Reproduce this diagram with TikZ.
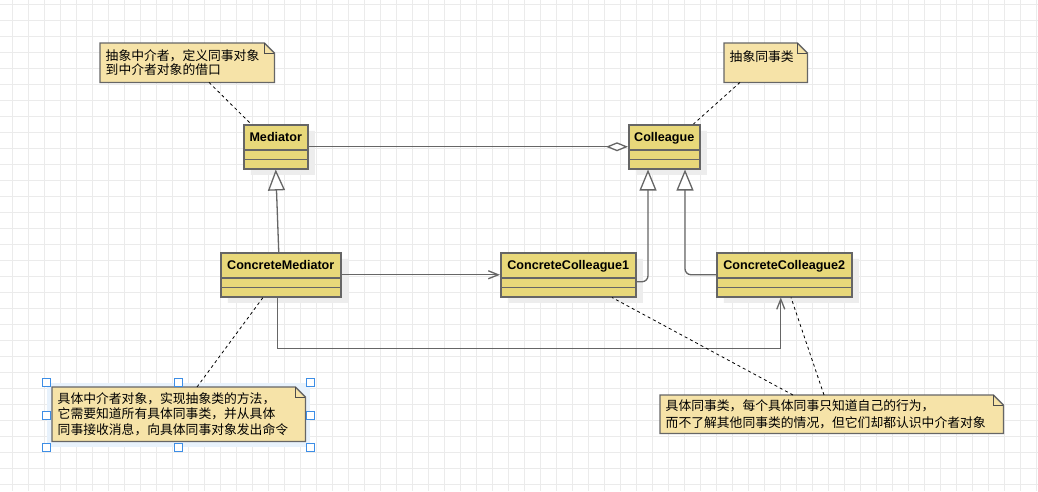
\documentclass[tikz,border=0pt]{standalone}
\usepackage{fontspec}
\newfontfamily\umlfont{Liberation Sans}
\newfontfamily\cjk{Noto Sans CJK SC}
\usetikzlibrary{arrows.meta,positioning,shapes.multipart,shadows,backgrounds,fit}
\definecolor{clsfill}{HTML}{E8D87A}
\definecolor{notefill}{HTML}{F6E3A8}
\definecolor{edge}{HTML}{666666}
\definecolor{gridln}{HTML}{EBEBEB}
\definecolor{selblue}{HTML}{3D8EE6}
\definecolor{selfill}{HTML}{E8F2FC}
\newcommand{\clsbody}[1]{\rule[-7.5pt]{0pt}{23.5pt}#1\nodepart{two}\rule{0pt}{8pt}\nodepart{three}\rule{0pt}{8pt}}

\begin{document}
\begin{tikzpicture}[
  x=1pt, y=-1pt,
  cls/.style={rectangle split, rectangle split parts=3, draw=edge, line width=1.5pt,
              fill=clsfill, inner xsep=2pt, inner ysep=0pt, anchor=north west,
              align=center, text width=#1,
              font=\umlfont\bfseries\fontsize{12.6}{14}\selectfont,
              drop shadow={shadow xshift=7pt, shadow yshift=-6pt, fill=black!7, opacity=1}},
  note/.style={anchor=north west, inner xsep=5.5pt, inner ysep=0pt, align=left},
  notebody/.style={draw=black!60, line width=1.3pt, fill=notefill},
  gen/.style={draw=edge, line width=1.3pt, -{Triangle[open, fill=white, length=21pt, width=17pt]}},
  agg/.style={draw=edge, line width=1.3pt, -{Diamond[open, fill=white, length=22pt, width=9pt]}},
  assoc/.style={draw=edge, line width=1.3pt, -{Straight Barb[length=10pt, width=8pt]}},
  dashln/.style={draw=black, line width=0.8pt, dash pattern=on 3pt off 3pt},
  handle/.style={draw=selblue, fill=white, line width=0.9pt}
]
  \useasboundingbox (0,0) rectangle (1038,491);
  % grid
  \begin{scope}[on background layer]
    \fill[white] (0,0) rectangle (1038,491);
    \foreach \x in {12.7,28.7,...,1038} \draw[gridln, line width=1pt] (\x,0) -- (\x,491);
    \foreach \y in {4.7,20.7,...,491} \draw[gridln, line width=1pt] (0,\y) -- (1038,\y);
  \end{scope}

  % classes
  \node[cls=60pt] (med) at (243,124) {\clsbody{Mediator}};
  \node[cls=67pt] (col) at (628,124) {\clsbody{Colleague}};
  \node[cls=116pt] (cm) at (220,252) {\clsbody{ConcreteMediator}};
  \node[cls=131pt] (cc1) at (500,252) {\clsbody{ConcreteColleague1}};
  \node[cls=131pt] (cc2) at (716,252) {\clsbody{ConcreteColleague2}};

  % notes
  \node[note, text width=163pt, minimum width=174pt, minimum height=39pt,
        font=\cjk\fontsize{12.8}{13.8}\selectfont] (n1) at (100,43)
        {抽象中介者，定义同事对象\\到中介者对象的借口};
  \node[note, text width=72pt, minimum width=83pt, minimum height=39pt,
        font=\cjk\fontsize{12.8}{13.8}\selectfont] (n2) at (724,43)
        {抽象同事类\\\mbox{}};
  \node[note, text width=242pt, minimum width=253pt, minimum height=54pt,
        font=\cjk\fontsize{12.8}{15.8}\selectfont] (n3) at (52,387)
        {具体中介者对象，实现抽象类的方法，\\它需要知道所有具体同事类，并从具体\\同事接收消息，向具体同事对象发出命令};
  \node[note, text width=332pt, minimum width=343pt, minimum height=38pt,
        font=\cjk\fontsize{12.8}{16.7}\selectfont] (n4) at (660,395)
        {具体同事类，每个具体同事只知道自己的行为，\\而不了解其他同事类的情况，但它们却都认识中介者对象};

  \begin{scope}[on background layer]
    \node[fit={([shift={(-5pt,4pt)}]n3.north west) ([shift={(5pt,-6pt)}]n3.south east)},
          inner sep=0pt, fill=selfill] (sel) {};
    \foreach \n in {n1,n2,n3,n4}
      \draw[notebody] (\n.north west) -- ([xshift=-10pt]\n.north east)
        -- ([yshift=-10pt]\n.north east) -- (\n.south east) -- (\n.south west) -- cycle;
  \end{scope}
  \foreach \n in {n1,n2,n3,n4}
    \draw[black!70, line width=0.7pt] ([xshift=-10pt]\n.north east)
      -- ([xshift=-10pt, yshift=-10pt]\n.north east) -- ([yshift=-10pt]\n.north east);
  \foreach \a in {north west,north,north east,west,east,south west,south,south east}
    \draw[handle] ([shift={(-4pt,-4pt)}]sel.\a) rectangle ([shift={(4pt,4pt)}]sel.\a);

  % relations
  \draw[agg] (med.east) -- (col.west);
  \draw[gen] ([xshift=-2pt]cm.north) -- (med.south);
  \draw[gen, rounded corners=6pt] ([yshift=-7pt]cc1.east) -| ([xshift=20pt]col.south west);
  \draw[gen, rounded corners=6pt] (cc2.west) -| ([xshift=57pt]col.south west);
  \draw[assoc] (cm.east) -- (cc1.west);
  \draw[assoc] ([xshift=-3pt]cm.south) -- ++(0,51) -| ([xshift=-3.5pt]cc2.south);

  % note links
  \draw[dashln] ([xshift=109pt]n1.south west) -- ([xshift=8pt]med.north west);
  \draw[dashln] ([xshift=16pt]n2.south west) -- ([xshift=-7pt]col.north east);
  \draw[dashln] ([xshift=145pt]n3.north west) -- ([xshift=43pt]cm.south west);
  \draw[dashln] ([xshift=133pt]n4.north west) -- ([xshift=112pt]cc1.south west);
  \draw[dashln] ([xshift=164pt]n4.north west) -- ([xshift=75pt]cc2.south west);
\end{tikzpicture}
\end{document}
